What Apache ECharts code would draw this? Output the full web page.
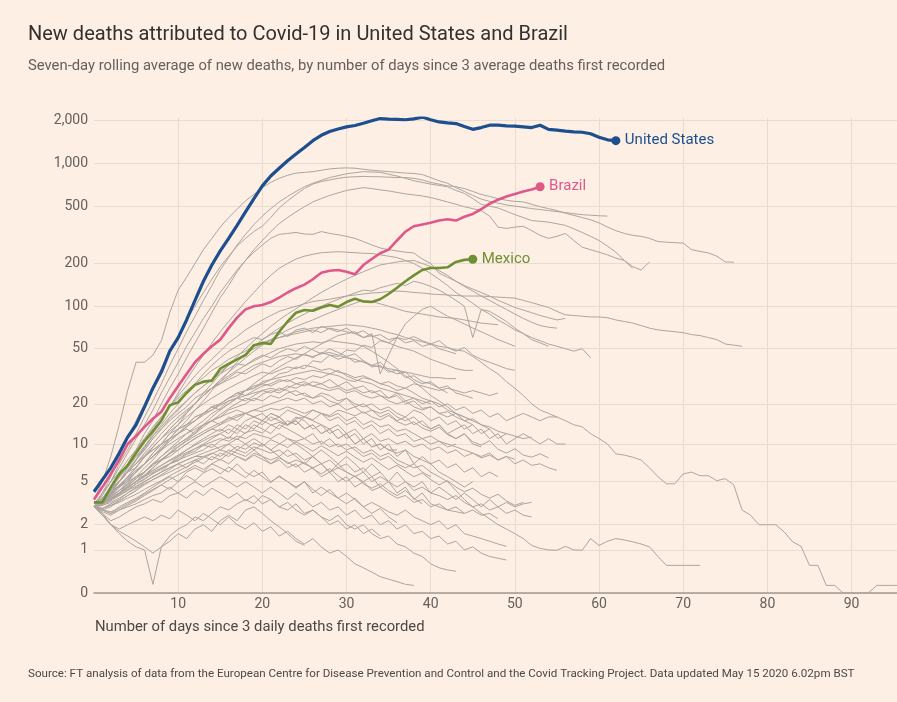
<!DOCTYPE html>
<html>
<head>
<meta charset="utf-8">
<script src="https://cdn.jsdelivr.net/npm/echarts@6/dist/echarts.min.js"></script>
<style>
html,body{margin:0;padding:0;background:#fdefe4;}
#chart{width:897px;height:702px;}
</style>
</head>
<body>
<div id="chart"></div>
<script>
// ---- tick labels ----
const yTickValues = [0, 1, 2, 5, 10, 20, 50, 100, 200, 500, 1000, 2000];
const xTickValues = [10, 20, 30, 40, 50, 60, 70, 80, 90];

// ---- highlighted series (7-day average of new deaths, day 0 = first day with 3 avg deaths) ----
const unitedStates = [4.1,5.2,6.5,8.5,11.3,14,19,26,34,48,60,80,110,150,195,245,300,370,460,570,700,820,930,1050,1170,1300,1450,1580,1680,1750,1810,1850,1920,2000,2070,2050,2040,2030,2060,2120,2030,1960,1930,1910,1820,1740,1790,1860,1860,1840,1830,1810,1790,1860,1740,1720,1690,1670,1660,1620,1530,1470,1450];
const brazil = [3.5,4.5,5.8,7.5,10,11.5,13.5,15.5,17.5,22,27,33,40,46,52,58,70,83,95,100,102,107,115,125,134,142,155,172,178,180,175,168,195,215,236,250,290,335,365,375,386,400,408,400,425,445,480,525,560,590,615,640,660,690];
const mexico = [3.3,3.3,4.5,5.8,6.8,8.5,10.5,12.5,15,19.5,20.5,24,27.5,29,29.5,36,39,42,45,53,55,54,66,78,90,94,93,98,102,99,107,113,108,107,112,122,135,150,165,180,186,186,188,205,212,214];

// ---- other countries (grey) ----
const longestRunning = [3,3.5,4,5,6,7.5,9,11,13,15.5,18,21,24,27,30,34,38,42,46,50,54,57,60,63,66,68,70,71,72,73,74,73,72,70,68,65,63,60,58,56,54,52,51,49,48,44,40,36,33,29,26,23,20,18,17,16,15,14,13.5,12,11,10,8.4,8.2,7.9,7.5,6.5,5.5,4.8,4.8,5.8,6,5.6,5.6,5.1,5.3,4.7,2.8,2.5,2,2,2,1.67,1.28,1.12,0.56,0.56,0.13,0.13,0,0,0,0,0.13,0.13,0.13,0.13];
const lowTail = [3,3.2,3.6,4,4.5,5,5.6,6.2,6.8,7.4,8,8.6,9.2,9.8,10.4,11,10.5,11.5,11,12,11.5,11,12,11,10.5,11,10,10.5,9.5,10,9,9.5,8.5,9,8,8.5,7.5,7,6.5,6.8,6,5.5,5,4.2,3.5,3,2.6,2.3,2,1.8,1.6,1.4,1.15,1.05,1,0.99,1.12,1,0.99,1.4,1.15,1.3,1.4,1.35,1.28,1.2,1.1,0.8,0.56,0.56,0.56,0.56,0.56];
const otherCountries = [
 [3.5,5,8,14,25,40,40,45,57,90,130,160,200,250,300,360,420,480,550,610,680,740,790,830,860,870,880,900,920,930,935,930,915,900,890,880,870,860,855,840,800,760,730,680,640,600,565,545,530,515,505,495,485,478,470,462,455,447,440,436,432,430],
 [3,4,5.5,8,11,15,20,27,36,48,62,80,100,125,155,190,225,265,300,335,365,420,490,550,610,670,720,750,770,790,805,810,815,812,810,805,800,800,790,770,740,720,700,690,670,640,610,590,570,555,545,540,520,500,485,470,450,435,420,405,385,360,340,325,315,310,300,285,282,280,278,250,243,237,225,205,204],
 [3,3.6,4.5,5.5,7,9,12,15,20,26,33,43,55,70,90,115,140,175,210,250,290,335,380,420,460,500,540,570,600,625,650,665,680,670,656,645,630,615,605,595,580,560,540,520,500,485,470,430,360,352,360,365,340,315,300,310,325,290,260,250,240,230,218,210,190,180,205],
 [3.2,4,5,7,9,12,16,21,28,38,50,66,85,110,140,180,220,270,320,375,430,485,540,590,640,690,730,765,800,825,850,865,880,875,870,845,820,790,760,740,720,705,690,650,620,570,520,505,490,465,440,420,400,395,390,380,370,350,330,310,290,265,240,210,185],
 [3,3.8,5,6.5,8.5,11,14,18,24,31,40,52,65,82,100,125,150,180,210,240,270,300,320,325,330,322,320,335,325,318,310,300,285,270,257,250,245,240,237,215,200,171,160,150,140,132,125,118,110,104,98,94,90,86,83,80,82],
 [3,3.5,4.2,5,6,7.5,9.5,12,15,19,24,30,37,45,55,66,78,92,108,125,145,165,185,200,215,225,232,238,240,242,240,238,236,235,230,225,220,210,200,185,170,155,140,125,115,105,95,88,80,74,68,64,60,57,54,52,50,48,50,43],
 [3,3.3,3.8,4.5,5.2,6,7,8.5,10,12,14,17,20,24,28,33,38,44,50,57,64,72,80,88,96,105,115,125,135,145,155,165,175,185,195,200,205,208,210,200,190,178,165,150,138,128,118,110,102,95,88,82,77,73,71,70],
 [3,3.2,3.5,4,4.8,5.5,6.5,7.5,9,11,13,15,18,21,25,29,34,40,46,52,58,64,70,76,82,88,95,100,106,112,118,124,130,128,135,140,145,140,150,145,138,130,120,110,100,60,95,92,85,78,70,64,58,55,52],
 [3,3.6,4.5,5.5,7,9,11,13.5,16,19,23,27,32,37,42,48,55,61,68,74,80,86,92,96,100,104,108,110,112,115,118,120,122,124,125,127,128,127,125,124,122,121,120,119,118,118,118,117,116,115,114,110,106,102,98,92,87,86,85,84,84,83,80,78,76,73,70,68,67,66,65,63,62,60,58,54,53,52],
 [3,3.4,4,4.5,5.5,6.5,8,9.5,11,13,15,17,20,23,26,30,34,38,43,48,53,58,63,68,72,76,80,85,90,95,100,105,110,108,104,100,96,92,90,88,86,84,83,82,80,78,76,75,74],
 [3,3.2,3.6,4,4.5,5,5.5,6.5,7.5,8.5,10,11,12.5,14,16,18,20,22,25,28,31,34,37,40,43,46,50,54,58,62,64,66,60,64,33,45,60,75,85,95,100,92,85,80,75,70,66,62,58,55,52],
 [3,3.2,4,5,6.5,8,9,11,13,15,17,19,22,24,26,28,30,32,35,38,40,42,44,45,46,45,44,46,47,45,43,42,40,38,37,36,35,34,33,32,31,31,30.5,30.5],
 [3,3.5,4.5,5,6,6.5,8,9,10,12,13,14,16,17,19,20,22,24,23,25,27,28,30,29,31,30,32,31,33,32,30,29,31,30,28,29,27,26,28,27,26,25,26,25,24,25,24,23,24],
 [3,3.2,3.5,4,4.5,5,6,7,8,9,10,11,12,14,15,16,18,19,20,22,21,23,22,24,25,23,22,24,23,21,22,20,19,20,18,19,17,16,18,17,15,16,14,15,13,14,12,13,11,12,11.5,11,11.3],
 [3,3.4,4,4.6,5.2,6,7,8.5,10,11,13,14,16,17,19,20,22,23,25,26,28,27,29,30,28,29,27,28,26,27,25,26,24,25,23,22,24,21,22,20,21,19,20,18,19,17,18,16,17,15,16,17,16,15,16,16],
 [3,3.3,3.8,4.2,5,5.5,6,7,7.5,8,9,10,11,12,13,14,15,16,17,18,19,20,21,22,21,22,20,21,19,20,18,19,17,18,16,17,15,16,14,15,13,14,12,13,14,12,13,11,12,10,11,12,11,10,11,10,10],
 [3,3.5,4.2,5,6,7,8.5,10,12,14,16,18,20,23,26,29,32,35,38,41,44,47,50,52,54,55,56,55,57,56,55,54,52,48,44,40,36,32,29,26,23,21,19,17,16,15,14,13],
 [3,4,5,6,7.5,9,11,13,16,19,22,25,28,31,35,38,42,45,48,52,55,58,60,62,64,66,68,65,70,68,66,64,60,62,58,55,52,50,48,45,42,40,38,36,35,35],
 [3,3.3,3.8,4.5,5,6,7,8,9.5,11,12,14,15,17,18,20,22,24,25,27,28,30,31,32,33,34,35,34,33,35,32,30,29,28,26,25,24,23,22,21,20],
 [3,2.8,3,3.4,3.8,4.2,5,5.5,6,7,8,9,10,11,12,13,12,14,13,15,14,16,15,14,16,15,13,14,12,13,11,12,10,11,9,10,8,9,7,8,7,6,5.5,5,4.5,5],
 [3,2.9,3.2,3.5,4,4.5,5,5.5,6,6.5,7,7.5,8,8.5,9,9.5,10,9,10,11,10,9,10,11,10,9,8,9,8,7,8,7,6,7,6,5,6,5,4.5,5,4,4.5,4,3.5,4,3.5,3,3.5,3,3.3,3,3.2,3.3],
 [3,3.2,3.5,3.8,4.2,4.6,5,5.5,6,6.5,7,7.5,8,8,8.5,8,9,8.5,8,9,8,7.5,8,7,7.5,7,6.5,7,6,6.5,6,5.5,6,5,5.5,5,4.5,5,4.2,4.5,4,3.8,3.5,3.8,3.3,3,3.2,2.8,3,2.6,2.8,2.5,2.4],
 [3,2.8,2.6,3,3.3,3.6,4,4.5,5,5.5,5,6,6.5,6,7,6.5,6,7,6,5.5,6,5,5.5,5,4.5,5,4,4.5,4,3.6,4,3.5,3,3.3,3,2.7,2.5,2.8,2.4,2.2,2,2.2,1.8,2,1.6,1.5,1.4,1.3,1.2,1.12],
 [3,2.7,2.5,2.8,3,3.2,3.5,3.8,4,4.5,4,4.5,5,4.5,5,5.5,5,4.5,5,4.5,4,4.5,4,3.5,4,3.5,3,3.3,2.8,3,2.5,2.8,2.3,2.5,2,2.2,1.8,2,1.6,1.7,1.4,1.5,1.2,1.3,1,1.1,0.9,0.8,0.75,0.7],
 [3,3.3,3.6,4,4.5,5,5.5,6,6.5,7,7.5,8,8.5,9,10,9,10,11,10,9,10,9,8,9,8,7,8,7,6,7,6,5.5,5,5.5,4.5,5,4,4.5,3.5,4,3.2,3,2.8,2.7,2.6],
 [3,2.6,2.2,2.4,2.7,3,3.2,3.5,3.3,3.8,4,3.6,4.2,3.8,4.4,4,3.6,4,3.4,3.8,3.2,3.5,3,2.8,3.2,2.6,2.8,2.4,2.2,2.5,2,1.8,2,1.6,1.4,1.5,1.2,1.1,0.9,0.8,0.6,0.5,0.45,0.42],
 [3,2.5,2,1.8,2,2.2,2.4,2.2,2.5,2.3,2.8,2.5,2.2,2.6,2.3,2,2.4,2,1.8,2.1,1.7,1.9,1.5,1.7,1.4,1.2,1.4,1.1,0.9,1,0.8,0.6,0.5,0.4,0.3,0.25,0.2,0.15,0.13],
 [3,2.6,2,1.6,1.3,1.1,1,0.15,1.1,1.5,1.8,2,2.4,2.2,2.6,3,2.8,3.2,3.5,3.2,3.8,3.5,3,3.3,2.8,2.5,2.8,2.4,2,2.2,1.8,2,1.6,1.8,1.5],
 [3,2.5,2,1.7,1.5,1.3,1.1,0.9,1.1,1.3,1.6,1.4,1.8,2,1.7,2.2,2.5,2.2,2.8,3,2.6,2.2,1.9,1.6,1.3,1.15],
 [3,3.5,4,5,6,7,8,9,10,11,12,13,12,14,15,14,16,15,17,16,15,17,16,14,15,13,14,12,13,11,12,10,11,9.5,10,9,8.5,9,8,7.5,7,7.5,6.5,7,6,6.5,5.5,6,5.5],
 [3,3.3,3.7,4.2,4.8,5.5,6,7,7.5,8.5,9,10,11,12,13,12.5,14,13,15,16,15,17,16,18,17,16,18,17,15,16,14,15,13,14,12,13,11.5,12,10.5,11,10,10.5,9.5,10],
 [3,3.1,3.3,3.6,4,4.4,4.8,5.2,5.6,6,6.5,7,7.5,8,7.5,8.5,8,9,8.5,9.5,9,8.5,9,8,8.5,7.5,8,7,7.5,6.5,7,6,6.5,5.5,6],
 [3,3.5,4,4.6,5.4,6.2,7,8,9.2,10.5,12,13.5,15,17,19,18,20,22,21,23,25,24,26,25,23,24,22,23,21,20,22,19,20,18,17,18,16,15,16,14,13,14,12,11,12,10,9.5],
 [3,3.2,3.5,3.9,4.3,4.8,5.3,5.8,6.4,7,7.7,8.4,9.2,10,11,12,11,13,12,14,13,12,14,13,12,11,12,10,11,9.5,10,9,8,8.5,7.5,8,7,6.5,7,6,5.5],
 [3,2.9,3.1,3.4,3.8,4.2,4.7,5.2,5.7,6.3,7,6.5,7.5,7,8,7.5,8.5,8,7.5,8.5,8,7,7.5,6.5,7,6,6.5,5.5,6,5,5.5,4.5,5,4.2,4.5,4,3.6,3.8,3.3,3.5,3,3.2,2.8,3,2.6,2.8,2.5,2.6,2.3],
 [3,3.6,4.3,5.1,6,7,8.2,9.5,11,12.5,14,16,18,20,22,24,26,28,30,32,34,33,35,37,36,38,37,35,36,34,33,31,32,30,28,27,25,26,24,22,21,20,18,17,16,15],
 [3,3.3,3.7,4.2,4.7,5.3,6,6.8,7.6,8.5,9.5,10.5,11.5,12.5,13.5,14.5,15.5,16.5,17,18,17.5,18.5,18,19,18,17,18,17,16,17,15,16,14,15,13.5,14,12.5,13,12,11,11.5,10.5,10,9.5,9,8.5,8,8.5,7.5,8,7,7.5,6.8,7,6.5,6.2],
 [3,3.4,3.9,4.5,5.2,6,7,8,9.2,10.5,12,13.5,15,16.5,18,19.5,21,22,23,24,25,26,25,27,26,28,27,26,25,26,24,25,23,22,23,21,20,21,19,18,19,17,16,17,15,14],
 [3,3.2,3.6,4,4.5,5,5.6,6.2,6.8,7.5,8.2,9,9.8,10.6,11.4,12,13,12,14,13,15,14,13,15,14,16,15,14,13,14,12,13,11,12,10.5,11,10,10.5,9.5,10,9,9.5,8.5,9,8,8.5,7.8,8.2,7.5,8,7.6],
 [3,3.5,4,4.7,5.4,6.2,7,8,9,10,11,12,13,14,15,16,17,18,17,16,17,15,16,14,15,13,14,12,13,11,12,10,11,9.5,10,9,9],
 [3,2.8,2.7,2.9,3.2,3.5,3.9,4.3,4.7,5.2,5.7,6.2,6.8,6.3,7,7.6,7,8,7.4,8.2,7.6,7,7.8,7.2,6.6,7.2,6.4,5.8,6.4,5.6,5,5.6,4.8,4.4,4.8,4.2,3.8,4.2,3.6,3.2],
 [3,3.1,3.4,3.8,4.2,4.8,5.2,5.9,6.3,7,7.4,8.3,8.8,9.8,9.4,10.6,11.3,10.8,12.2,12.8,12.1,13.9,14.6,13.8,15.5,16.1,15.2,17,16.4,18,17.2,16.3,17.5,16,15.2,16.4,14.8,13.9,14.7,13.2,12.5,13.4,11.8,11,11.9,10.4,9.8,10.6,9.1,8.5,9.2,8.2,7.9,8.4,7.8],
 [3,3.3,3.9,4.6,5.5,6.6,7.9,9.4,11,13,15,17.5,20,23,26,28,31,34,33,36,39,37,41,44,42,46,43,47,45,42,44,40,41,37,38,34,35,31,32,29,28,26,27,24,23,22],
 [3,3.4,4.1,5,6.2,7.6,9.3,11.5,14,17,20,24,28,33,38,43,48,52,56,60,58,63,66,61,68,70,65,72,69,66,70,64,67,61,63,58,60,55,57,52,54,50,48,46],
 [3,2.9,3.1,3.3,3.6,3.9,4.3,4.7,5.1,5.6,6.1,6.6,7.2,7.8,8.4,9,8.6,9.6,9.1,10.2,9.6,10.8,10.1,9.4,10.4,9.6,8.8,9.7,8.9,8.1,8.8,7.9,7.2,7.8,7,6.3,6.8,6.1,5.5,5.9,5.2,4.7,5.1,4.5,4.1,4.4,3.9,3.6,3.9,3.4,3.1,3.3],
 [3,3.2,3.5,3.9,4.4,5,5.7,6.5,7.4,8.4,9.5,10.7,12,13.5,15,16.7,18.5,20.2,22,21,23.5,25,24,26,28,27,29,28,30,27,29,26,27,24,25,22,23,20,21,18.5,19,17,17.5,16,15,15.5,14,13.5,12.5,12],
 [3,2.8,2.6,2.8,3.1,3.4,3.8,4.2,4.7,4.3,5,5.6,5.1,5.9,6.4,5.8,6.6,6,5.4,6.2,5.5,4.9,5.6,5,4.4,5,4.3,3.8,4.3,3.6,3.2,3.6,3,2.6,2.9,2.4,2.1],
 [3,3.2,3.5,4,4.6,5.3,6,7,8,9.2,10.5,12,13.5,15,17,18.5,21,22,25,26,29,30,33,34,37,36,41,40,45,44,49,48,53,51,57,55,60,58,61,57,54,57,51,48,51,45,42,40,38,36,35],
 [3,3.6,4.4,5.4,6.6,8,9.6,11.5,13.5,16,18.5,21,24,27,30,33,36,39,38,42,45,43,47,50,48,52,49,46,50,47,44,46,41,38,40,35,33,34,30,28,29,26,24]
];

// ---- scale helper: the axis shows log10(deaths + 1) ----
const toAxis = v => Math.log10(v + 1);
const toPoints = vals => vals.map((v, i) => [i, toAxis(v)]);
function withEndDot(vals, color) {
  const pts = toPoints(vals);
  const last = pts.length - 1;
  pts[last] = { value: pts[last], symbol: 'circle', symbolSize: 9, itemStyle: { color: color } };
  return pts;
}

const FONT = 'Roboto, "Noto Sans", sans-serif';
const blue = '#1d4f8e', pink = '#e0578a', green = '#6f8f33', grey = '#aca5a0';

const series = [];
[longestRunning, lowTail].concat(otherCountries).forEach(vals => {
  series.push({
    type: 'line', data: toPoints(vals), symbol: 'none', silent: true,
    lineStyle: { color: grey, width: 1 }, z: 2
  });
});
function mainSeries(name, vals, color, width) {
  return {
    type: 'line', name: name, data: withEndDot(vals, color), symbol: 'none', silent: true,
    lineStyle: { color: color, width: width }, z: 5,
    endLabel: { show: true, formatter: name, color: color, fontSize: 15, fontFamily: FONT, distance: 9 }
  };
}
series.push(mainSeries('Mexico', mexico, green, 2.6));
series.push(mainSeries('Brazil', brazil, pink, 2.6));
series.push(mainSeries('United States', unitedStates, blue, 3.2));

const yCustom = yTickValues.map(toAxis);

const chart = echarts.init(document.getElementById('chart'), null, { renderer: 'canvas' });
chart.setOption({
  animation: false,
  backgroundColor: '#fdefe4',
  textStyle: { fontFamily: FONT },
  title: [
    { text: 'New deaths attributed to Covid-19 in United States and Brazil', left: 28, top: 25, padding: 0,
      textStyle: { fontSize: 20, fontWeight: 'normal', color: '#33302e', fontFamily: FONT } },
    { text: 'Seven-day rolling average of new deaths, by number of days since 3 average deaths first recorded', left: 28, top: 59, padding: 0,
      textStyle: { fontSize: 14.8, fontWeight: 'normal', color: '#66605c', fontFamily: FONT } },
    { text: 'Number of days since 3 daily deaths first recorded', left: 95, top: 620, padding: 0,
      textStyle: { fontSize: 14.8, fontWeight: 'normal', color: '#4d4845', fontFamily: FONT } },
    { text: 'Source: FT analysis of data from the European Centre for Disease Prevention and Control and the Covid Tracking Project. Data updated May 15 2020 6.02pm BST', left: 28, top: 668, padding: 0,
      textStyle: { fontSize: 11.6, fontWeight: 'normal', color: '#4d4845', fontFamily: FONT } }
  ],
  grid: { left: 94, right: 0, top: 118, bottom: 109, containLabel: false },
  xAxis: {
    type: 'value', min: 0, max: 95.4, interval: 10,
    axisLine: { show: true, onZero: false, lineStyle: { color: '#a09993', width: 1.5 } },
    axisTick: { show: false },
    axisLabel: { color: '#66605c', fontSize: 14, margin: 4, showMaxLabel: false,
      formatter: v => xTickValues.includes(v) ? String(v) : '' },
    splitLine: { show: true, showMinLine: false, showMaxLine: false, lineStyle: { color: '#e8dbd0', width: 1 } }
  },
  yAxis: {
    type: 'value', min: 0, max: 3.32,
    axisLine: { show: false },
    axisTick: { show: false, customValues: yCustom },
    axisLabel: { customValues: yCustom, color: '#66605c', fontSize: 14, margin: 6,
      formatter: v => Math.round(Math.pow(10, v) - 1).toLocaleString('en-US') },
    splitLine: { show: true, lineStyle: { color: '#e8dbd0', width: 1 } }
  },
  series: series
});
</script>
</body>
</html>
